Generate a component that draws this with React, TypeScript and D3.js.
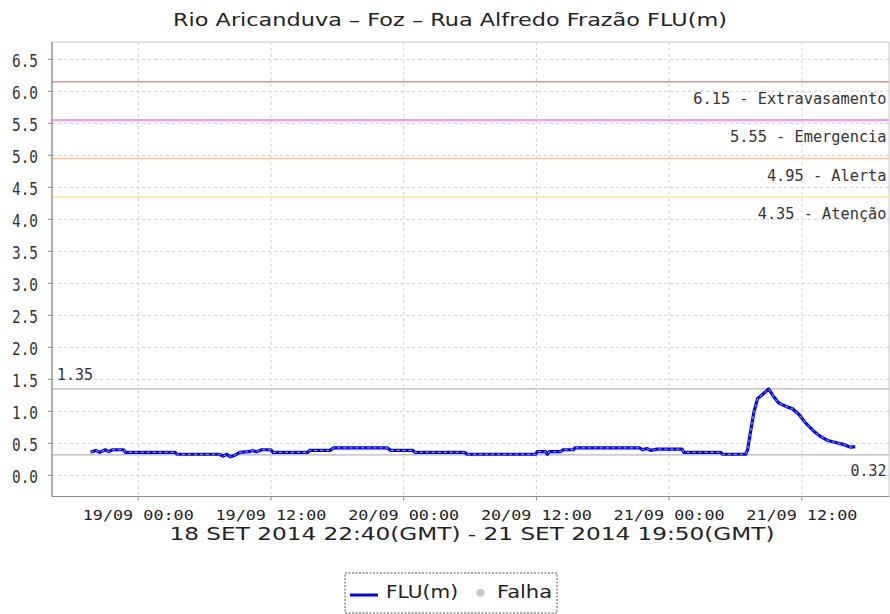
import React from "react";
import * as d3 from "d3";

const TITLE = "Rio Aricanduva – Foz – Rua Alfredo Frazão FLU(m)";
const SUBTITLE = "18 SET 2014 22:40(GMT) - 21 SET 2014 19:50(GMT)";

// times are local (GMT-3) wall-clock times, stored as UTC for stable rendering
const times: string[] = [
  "2014-09-18T19:40", "2014-09-18T20:10", "2014-09-18T20:30", "2014-09-18T21:00",
  "2014-09-18T21:20", "2014-09-18T21:40", "2014-09-18T22:40", "2014-09-18T22:50",
  "2014-09-19T03:20", "2014-09-19T03:30", "2014-09-19T07:20", "2014-09-19T07:40",
  "2014-09-19T08:00", "2014-09-19T08:20", "2014-09-19T08:40", "2014-09-19T09:10",
  "2014-09-19T10:00", "2014-09-19T10:20", "2014-09-19T10:40", "2014-09-19T11:10",
  "2014-09-19T12:00", "2014-09-19T12:10", "2014-09-19T15:20", "2014-09-19T15:30",
  "2014-09-19T17:20", "2014-09-19T17:40", "2014-09-19T22:30", "2014-09-19T22:50",
  "2014-09-20T00:50", "2014-09-20T01:00", "2014-09-20T05:30", "2014-09-20T05:45",
  "2014-09-20T11:55", "2014-09-20T12:05", "2014-09-20T12:50", "2014-09-20T13:00",
  "2014-09-20T13:10", "2014-09-20T14:10", "2014-09-20T14:25", "2014-09-20T15:20",
  "2014-09-20T15:30", "2014-09-20T21:20", "2014-09-20T21:35", "2014-09-20T22:00",
  "2014-09-20T22:20", "2014-09-20T22:55", "2014-09-21T01:10", "2014-09-21T01:20",
  "2014-09-21T04:40", "2014-09-21T04:50", "2014-09-21T06:55", "2014-09-21T07:05",
  "2014-09-21T07:20", "2014-09-21T07:40", "2014-09-21T08:00", "2014-09-21T08:25",
  "2014-09-21T09:00", "2014-09-21T09:30", "2014-09-21T09:55", "2014-09-21T10:40",
  "2014-09-21T11:10", "2014-09-21T11:45", "2014-09-21T12:20", "2014-09-21T13:05",
  "2014-09-21T13:40", "2014-09-21T14:25", "2014-09-21T15:10", "2014-09-21T15:50",
  "2014-09-21T16:25", "2014-09-21T16:50",
];
const levels: number[] = [
  0.36, 0.39, 0.36, 0.40,
  0.37, 0.40, 0.40, 0.36,
  0.36, 0.33, 0.33, 0.30,
  0.33, 0.29, 0.31, 0.36,
  0.37, 0.39, 0.37, 0.40,
  0.40, 0.36, 0.36, 0.39,
  0.39, 0.43, 0.43, 0.39,
  0.39, 0.36, 0.36, 0.33,
  0.33, 0.37, 0.37, 0.33,
  0.37, 0.37, 0.40, 0.40,
  0.43, 0.43, 0.40, 0.42,
  0.39, 0.41, 0.41, 0.36,
  0.36, 0.33, 0.33, 0.39,
  0.65, 0.99, 1.20, 1.26,
  1.35, 1.22, 1.13, 1.07,
  1.04, 0.95, 0.82, 0.69,
  0.61, 0.54, 0.51, 0.48,
  0.44, 0.45,
];

const thresholdValues = [6.15, 5.55, 4.95, 4.35];
const thresholdNames = ["Extravasamento", "Emergencia", "Alerta", "Atenção"];
const thresholdColors = ["#f08a8a", "#ff70ff", "#ffc896", "#ffe68c"];

const maxValue = 1.35;
const minValue = 0.32;

const yTicks = d3.range(0, 6.51, 0.5);
const xTickTimes = [
  "2014-09-19T00:00", "2014-09-19T12:00", "2014-09-20T00:00",
  "2014-09-20T12:00", "2014-09-21T00:00", "2014-09-21T12:00",
];
const xDomain = ["2014-09-18T16:12", "2014-09-21T19:53"];
const yDomain = [-0.33, 6.77];

const legendNames = ["FLU(m)", "Falha"];

const parse = (s: string) => new Date(s + ":00Z");

export default function App() {
  const W = 890, H = 614;
  const left = 52, right = 889, top = 42, bottom = 496.5;
  const x = d3.scaleUtc().domain(xDomain.map(parse)).range([left, right]);
  const y = d3.scaleLinear().domain(yDomain).range([bottom, top]);
  const fmt = d3.utcFormat("%d/%m %H:%M");
  const data = times.map((t, i) => ({ t: parse(t), v: levels[i] }));
  const line = d3.line<{ t: Date; v: number }>().x(d => x(d.t)).y(d => y(d.v));
  const path = line(data) || "";
  const mono = "'DejaVu Sans Mono', monospace";
  const sans = "'DejaVu Sans', sans-serif";

  return (
    <svg width={W} height={H} style={{ position: "absolute", left: 0, top: 0, background: "#fff" }}>
      <rect x={0} y={0} width={W} height={H} fill="#fff" />
      <text x={450} y={26} textAnchor="middle" fontFamily={sans} fontSize={17} fill="#222"
        textLength={554} lengthAdjust="spacingAndGlyphs">{TITLE}</text>

      {/* plot background */}
      <rect x={left} y={top} width={right - left} height={bottom - top} fill="#fff" stroke="#c8c8c8" />

      {/* grid */}
      {yTicks.map(t => (
        <line key={"gy" + t} x1={left} x2={right} y1={y(t)} y2={y(t)} stroke="#d0d0d0" strokeDasharray="3,3" />
      ))}
      {xTickTimes.map(t => (
        <line key={"gx" + t} x1={x(parse(t))} x2={x(parse(t))} y1={top} y2={bottom} stroke="#d0d0d0" strokeDasharray="3,3" />
      ))}

      {/* thresholds */}
      {thresholdValues.map((v, i) => (
        <g key={"th" + v}>
          <line x1={left} x2={right} y1={y(v)} y2={y(v)} stroke={thresholdColors[i]} strokeWidth={1.5} />
          <text x={886.5} y={y(v) + 22} textAnchor="end" fontFamily={mono} fontSize={15} fill="#333"
            textLength={(v.toFixed(2) + " - " + thresholdNames[i]).length * 9.2} lengthAdjust="spacingAndGlyphs">
            {v.toFixed(2) + " - " + thresholdNames[i]}
          </text>
        </g>
      ))}

      {/* max/min markers */}
      <line x1={left} x2={right} y1={y(maxValue)} y2={y(maxValue)} stroke="#b4b4b4" strokeWidth={1.2} />
      <text x={57} y={y(maxValue) - 9} fontFamily={mono} fontSize={15} fill="#333"
        textLength={36} lengthAdjust="spacingAndGlyphs">{maxValue.toFixed(2)}</text>
      <line x1={left} x2={right} y1={y(minValue)} y2={y(minValue)} stroke="#b4b4b4" strokeWidth={1.2} />
      <text x={886.5} y={y(minValue) + 21.5} textAnchor="end" fontFamily={mono} fontSize={15} fill="#333"
        textLength={36} lengthAdjust="spacingAndGlyphs">{minValue.toFixed(2)}</text>

      {/* series */}
      <path d={path} fill="none" stroke="#0000ff" strokeWidth={3.2} strokeLinejoin="round" />
      <path d={path} fill="none" stroke="#ffffff" strokeWidth={0.8} strokeDasharray="3,3" opacity={0.85} />

      {/* axes */}
      <line x1={left} x2={left} y1={top} y2={bottom} stroke="#8a8a8a" strokeWidth={1.2} />
      <line x1={left} x2={right} y1={bottom} y2={bottom} stroke="#8a8a8a" strokeWidth={1.2} />
      {yTicks.map(t => (
        <g key={"yt" + t}>
          <line x1={left - 4} x2={left} y1={y(t)} y2={y(t)} stroke="#8a8a8a" />
          <text x={38} y={y(t) + 7.5} textAnchor="end" fontFamily={mono} fontSize={17} fill="#333"
            textLength={26} lengthAdjust="spacingAndGlyphs">{t.toFixed(1)}</text>
        </g>
      ))}
      {xTickTimes.map(t => (
        <g key={"xt" + t}>
          <line x1={x(parse(t))} x2={x(parse(t))} y1={bottom} y2={bottom + 4} stroke="#8a8a8a" />
          <text x={x(parse(t))} y={519.5} textAnchor="middle" fontFamily={mono} fontSize={14.5} fill="#222"
            textLength={111} lengthAdjust="spacingAndGlyphs">{fmt(parse(t))}</text>
        </g>
      ))}
      <text x={472} y={539.5} textAnchor="middle" fontFamily={sans} fontSize={17} fill="#222"
        textLength={605} lengthAdjust="spacingAndGlyphs">{SUBTITLE}</text>

      {/* legend */}
      <rect x={345} y={573} width={212} height={40} fill="#fff" stroke="#555" strokeDasharray="2,1.5" />
      <line x1={350} x2={378} y1={595} y2={595} stroke="#0000ff" strokeWidth={3} />
      <text x={386} y={597.5} fontFamily={sans} fontSize={17} fill="#222"
        textLength={72} lengthAdjust="spacingAndGlyphs">{legendNames[0]}</text>
      <circle cx={480.5} cy={592.7} r={4} fill="#c8c8c8" />
      <text x={497} y={597.5} fontFamily={sans} fontSize={17} fill="#222"
        textLength={55} lengthAdjust="spacingAndGlyphs">{legendNames[1]}</text>
    </svg>
  );
}
